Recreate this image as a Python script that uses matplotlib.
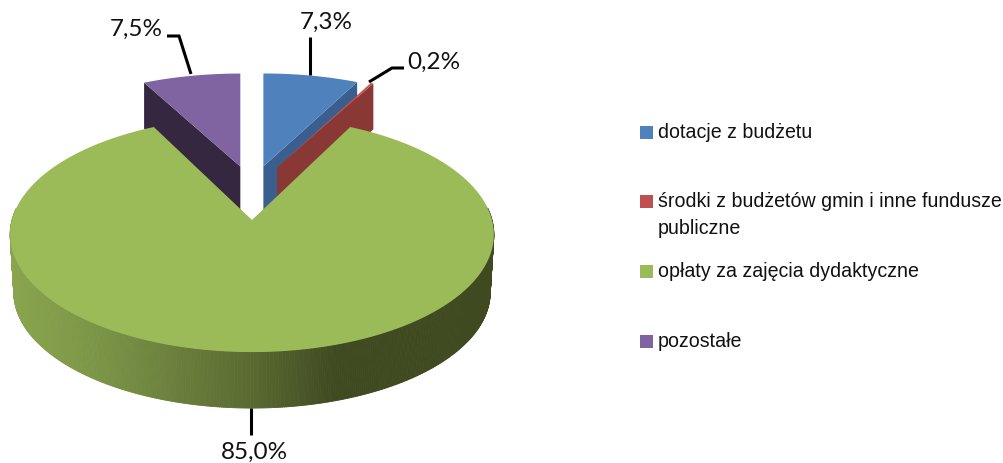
import numpy as np
import matplotlib
matplotlib.use("Agg")
import matplotlib.pyplot as plt
from matplotlib.collections import PolyCollection
from matplotlib.colors import to_rgb

categories = [
    "dotacje z budżetu",
    "środki z budżetów gmin i inne fundusze\npubliczne",
    "opłaty za zajęcia dydaktyczne",
    "pozostałe",
]
shares = [7.3, 0.2, 85.0, 7.5]
share_labels = ["7,3%", "0,2%", "85,0%", "7,5%"]

top_colors = ["#4f81bd", "#c0504d", "#9bbb59", "#8064a2"]
wall_colors = ["#3a5f8e", "#8a3836", "#9bbb59", "#35273f"]

# pie geometry in pixels, with a small perspective so the back is squeezed
cx, cy = 252, 220
rx, ry = 240, 115.8
persp = 0.123
explode_px = [(50, 55), (56, 59), (0, 0), (50, 55)]
back_squash = 0.92
back_scale = 0.98
back_depth = 46
front_depth = 58
bottom_scale = 0.985


def rim(theta, ox=0.0, oy=0.0, squash=1.0, dz=0.0, scale=1.0):
    t = np.radians(theta)
    u, v = np.sin(t), -np.cos(t)
    s = scale / (1 - persp * v)
    return cx + ox + rx * u * s, cy + oy + dz + ry * squash * v * s


def wedge_points(a0, a1, ox, oy, squash, scale):
    thetas = np.linspace(a0, a1, 200)
    xs, ys = rim(thetas, ox, oy, squash, scale=scale)
    return np.r_[cx + ox, xs], np.r_[cy + oy, ys]


def wall(ax, theta, ox, oy, color):
    x1, y1 = rim(theta, ox, oy, back_squash, scale=back_scale)
    ax.fill(
        [cx + ox, x1, x1, cx + ox],
        [cy + oy, y1, y1 + back_depth, cy + oy + back_depth],
        color=color,
        lw=0,
    )


# side colour follows the horizontal position, light on the left
side_x = [10, 100, 250, 335, 495]
side_rgb = np.array([to_rgb(c) for c in ["#8aa54e", "#7a9446", "#5a6a31", "#3f4a21", "#3f4a21"]])

fig = plt.figure(figsize=(10.04, 4.63), dpi=100)
ax = fig.add_axes([0, 0, 1, 1])
ax.set_xlim(0, 1004)
ax.set_ylim(463, 0)
ax.axis("off")

edges = np.cumsum([0] + shares) * 3.6
offsets = []
for i, share in enumerate(shares):
    mid = np.radians((edges[i] + edges[i + 1]) / 2)
    offsets.append((explode_px[i][0] * np.sin(mid), -explode_px[i][1] * np.cos(mid)))

# walls of the pulled out slices sit behind everything
wall(ax, edges[3], offsets[3][0], offsets[3][1], wall_colors[3])
wall(ax, edges[1], offsets[0][0], offsets[0][1], wall_colors[0])
wall(ax, edges[2], offsets[1][0], offsets[1][1], wall_colors[1])

for i in [3, 0, 1]:
    xs, ys = wedge_points(edges[i], edges[i + 1], offsets[i][0], offsets[i][1], back_squash, back_scale)
    ax.fill(xs, ys, color=top_colors[i], lw=0)

# green slice side, thin strips for the shading, only the part seen from the front
thetas = np.linspace(84, 276, 400)
tx, ty = rim(thetas)
bx, by = rim(thetas, dz=front_depth, scale=bottom_scale)
strips = []
strip_colors = []
for j in range(len(thetas) - 1):
    strips.append([(tx[j], ty[j]), (tx[j + 1], ty[j + 1]), (bx[j + 1], by[j + 1]), (bx[j], by[j])])
    mid_x = (tx[j] + tx[j + 1]) / 2
    strip_colors.append([np.interp(mid_x, side_x, side_rgb[:, c]) for c in range(3)])
ax.add_collection(PolyCollection(strips, facecolors=strip_colors, edgecolors=strip_colors, linewidths=0.6))

xs, ys = wedge_points(edges[2], edges[3], 0, 0, 1.0, 1.0)
ax.fill(xs, ys, color=top_colors[2], lw=0)

# leader lines
leader = dict(color="black", lw=2.2, solid_capstyle="butt", solid_joinstyle="miter")
ax.plot([310, 310], [37, 75], **leader)
ax.plot([369, 392, 404], [82, 68, 68], **leader)
ax.plot([167, 179, 191], [36, 36, 74], **leader)
ax.plot([251, 251], [408, 435], **leader)

label_font = dict(family="Lato", fontsize=17.5, color="#111111", ha="center", va="center")
ax.text(326, 22, share_labels[0], **label_font)
ax.text(434, 62, share_labels[1], **label_font)
ax.text(254, 452, share_labels[2], **label_font)
ax.text(136, 29, share_labels[3], **label_font)

# legend, placed by hand to keep the uneven spacing
legend_y = [132, 201, 271, 341]
for y, color, name in zip(legend_y, top_colors, categories):
    ax.fill([640, 653, 653, 640], [y - 6.5, y - 6.5, y + 6.5, y + 6.5], color=color, lw=0)
    ax.text(658, y - 9, name, family="Liberation Sans", fontsize=14.1, color="#111111",
            ha="left", va="top", linespacing=1.55)

fig.savefig("out.png", dpi=100)
plt.close()
